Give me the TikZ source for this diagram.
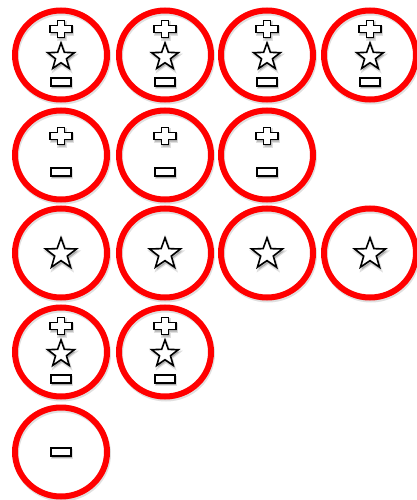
\documentclass[tikz,border=0pt]{standalone}
\usetikzlibrary{shapes.geometric}
\tikzset{
  x=1pt, y=-1pt,
  ring/.style={ellipse, draw=red, line width=6pt, minimum width=92pt, minimum height=89pt, inner sep=0pt},
  ringshadow/.style={ellipse, draw=black, draw opacity=0.12, line width=6pt, minimum width=92pt, minimum height=89pt, inner sep=0pt},
  symb/.style={draw=black, fill=white, line width=1.6pt, line join=miter},
  symbshadow/.style={fill=black, fill opacity=0.22, draw=black, draw opacity=0.12, line width=2.5pt},
  pics/plussym/.style={code={
    \path[symbshadow] (1,2) ++(-3.5,-8.5) -- ++(7,0) -- ++(0,5) -- ++(7.5,0) -- ++(0,7) -- ++(-7.5,0) -- ++(0,5) -- ++(-7,0) -- ++(0,-5) -- ++(-7.5,0) -- ++(0,-7) -- ++(7.5,0) -- cycle;
    \path[symb] (-3.5,-8.5) -- (3.5,-8.5) -- (3.5,-3.5) -- (11,-3.5) -- (11,3.5) -- (3.5,3.5) -- (3.5,8.5) -- (-3.5,8.5) -- (-3.5,3.5) -- (-11,3.5) -- (-11,-3.5) -- (-3.5,-3.5) -- cycle;
  }},
  pics/minussym/.style={code={
    \path[symbshadow] (-9,-2) rectangle (11,6);
    \path[symb] (-10,-4) rectangle (10,4);
  }},
  pics/starsym/.style={code={
    \path[symbshadow, shift={(1,2)}] (90:-13) -- (126:-5.3) -- (162:-13) -- (198:-5.3) -- (234:-13) -- (270:-5.3) -- (306:-13) -- (342:-5.3) -- (18:-13) -- (54:-5.3) -- cycle;
    \path[symb] (90:-13) -- (126:-5.3) -- (162:-13) -- (198:-5.3) -- (234:-13) -- (270:-5.3) -- (306:-13) -- (342:-5.3) -- (18:-13) -- (54:-5.3) -- cycle;
  }}
}
\begin{document}
\begin{tikzpicture}
\useasboundingbox (0,0) rectangle (416,500);
% ring shadows
\foreach \px/\py [count=\i] in {61/55,165/55,267/55,370/55,
                61/155,165/155,267/155,
                61/253,165/253,267/253,370/253,
                61/352,165/352,61/452}
  \node[ringshadow] (s\i) at (\px+1,\py+2) {};
% rings
\node[ring] (c11) at (61,55) {};
\node[ring] (c12) at (165,55) {};
\node[ring] (c13) at (267,55) {};
\node[ring] (c14) at (370,55) {};
\node[ring] (c21) at (61,155) {};
\node[ring] (c22) at (165,155) {};
\node[ring] (c23) at (267,155) {};
\node[ring] (c31) at (61,253) {};
\node[ring] (c32) at (165,253) {};
\node[ring] (c33) at (267,253) {};
\node[ring] (c34) at (370,253) {};
\node[ring] (c41) at (61,352) {};
\node[ring] (c42) at (165,352) {};
\node[ring] (c51) at (61,452) {};
% row 1 and row 4: plus, star, minus
\foreach \c in {c11,c12,c13,c14,c41,c42}{
  \pic at ([yshift=26pt]\c.center) {plussym};
  \pic[scale=1.08] at ([yshift=-2pt]\c.center) {starsym};
  \pic at ([yshift=-27pt]\c.center) {minussym};
}
% row 2: plus, minus
\foreach \c in {c21,c22,c23}{
  \pic at ([yshift=19pt]\c.center) {plussym};
  \pic at ([yshift=-17pt]\c.center) {minussym};
}
% row 3: star
\foreach \c in {c31,c32,c33,c34}{
  \pic[scale=1.25] at ([yshift=-1pt]\c.center) {starsym};
}
% row 5: minus
\pic at (c51.center) {minussym};
\end{tikzpicture}
\end{document}
